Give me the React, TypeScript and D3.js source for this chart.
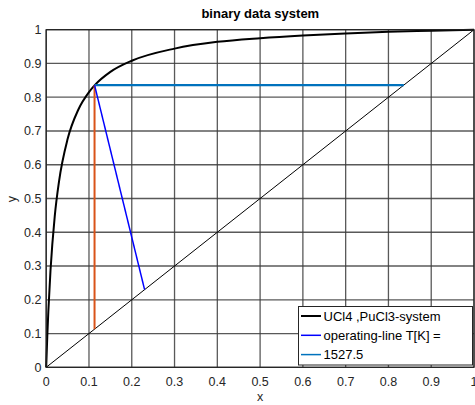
import React from "react";
import * as d3 from "d3";

const equilibriumX = [0, 0.0025, 0.005, 0.01, 0.02, 0.03, 0.05, 0.075, 0.1, 0.113, 0.15, 0.2, 0.3, 0.4, 0.5, 0.6, 0.7, 0.8, 0.9, 1];
const equilibriumY = [0, 0.0905, 0.166, 0.286, 0.448, 0.551, 0.676, 0.763, 0.815, 0.835, 0.875, 0.908, 0.944, 0.964, 0.975, 0.983, 0.989, 0.994, 0.997, 1];
const diagonalX = [0, 1];
const diagonalY = [0, 1];
const operatingX = [0.113, 0.23];
const operatingY = [0.836, 0.23];
const horizontalX = [0.113, 0.836];
const horizontalY = [0.836, 0.836];
const verticalX = [0.113, 0.113];
const verticalY = [0.836, 0.113];
const xTicks = [0, 0.1, 0.2, 0.3, 0.4, 0.5, 0.6, 0.7, 0.8, 0.9, 1];
const yTicks = [0, 0.1, 0.2, 0.3, 0.4, 0.5, 0.6, 0.7, 0.8, 0.9, 1];
const legendLabels = ["UCl4 ,PuCl3-system", "operating-line T[K] =", "1527.5"];
const title = "binary data system";

const W = 475, H = 405;
const L = 46.2, R = 474, T = 29.7, B = 367.3;
const font = "'Liberation Sans', Arial, Helvetica, sans-serif";

export default function App() {
  const x = d3.scaleLinear().domain([0, 1]).range([L, R]);
  const y = d3.scaleLinear().domain([0, 1]).range([B, T]);
  const line = (xs: number[], ys: number[], curve = d3.curveLinear) =>
    d3.line<number>().x((d) => x(xs[d])).y((d) => y(ys[d])).curve(curve)(xs.map((_, i) => i)) || "";

  const legendColors = ["#000000", "#0000FF", "#0072BD"];
  return (
    <div style={{ position: "absolute", left: 0, top: 0 }}>
      <svg width={W} height={H} style={{ display: "block", background: "#fff" }}>
        <rect x={0} y={0} width={W} height={H} fill="#fff" />
        {xTicks.map((t) => (
          <line key={"gx" + t} x1={x(t)} x2={x(t)} y1={T} y2={B} stroke="#3c3c3c" strokeWidth={1.3} strokeOpacity={0.85} />
        ))}
        {yTicks.map((t) => (
          <line key={"gy" + t} x1={L} x2={R} y1={y(t)} y2={y(t)} stroke="#3c3c3c" strokeWidth={1.3} strokeOpacity={0.85} />
        ))}
        <path d={line(diagonalX, diagonalY)} fill="none" stroke="#000" strokeWidth={1} />
        <path d={line(equilibriumX, equilibriumY, d3.curveMonotoneX)} fill="none" stroke="#000" strokeWidth={2} />
        <path d={line(horizontalX, horizontalY)} fill="none" stroke="#0072BD" strokeWidth={2.2} />
        <path d={line(verticalX, verticalY)} fill="none" stroke="#D95319" strokeWidth={2} />
        <path d={line(operatingX, operatingY)} fill="none" stroke="#0000FF" strokeWidth={1.5} />
        <rect x={L} y={T} width={R - L} height={B - T} fill="none" stroke="#222" strokeWidth={1.2} />
        {xTicks.map((t) => (
          <text key={"tx" + t} x={x(t)} y={386} textAnchor="middle" fontFamily={font} fontSize={12.5} fill="#262626">
            {d3.format("~g")(t)}
          </text>
        ))}
        {yTicks.map((t) => (
          <text key={"ty" + t} x={41.5} y={y(t)} dy="0.35em" textAnchor="end" fontFamily={font} fontSize={12.5} fill="#262626">
            {d3.format("~g")(t)}
          </text>
        ))}
        <text x={260} y={401} textAnchor="middle" fontFamily={font} fontSize={12.5} fill="#262626">x</text>
        <text transform="translate(16,199) rotate(-90)" textAnchor="middle" fontFamily={font} fontSize={12.5} fill="#262626">y</text>
        <text x={260.3} y={18} textAnchor="middle" fontFamily={font} fontSize={13} fontWeight="bold" fill="#000">{title}</text>
        <rect x={298.5} y={306.5} width={174} height={58.5} fill="#fff" stroke="#262626" strokeWidth={1} />
        {legendLabels.map((lab, i) => {
          const cy = 316 + i * 19.3;
          return (
            <g key={lab}>
              <line x1={301} x2={321} y1={cy} y2={cy} stroke={legendColors[i]} strokeWidth={i === 0 ? 2 : 1.5} />
              <text x={323.5} y={cy} dy="0.36em" fontFamily={font} fontSize={13} fill="#000">{lab}</text>
            </g>
          );
        })}
      </svg>
    </div>
  );
}
